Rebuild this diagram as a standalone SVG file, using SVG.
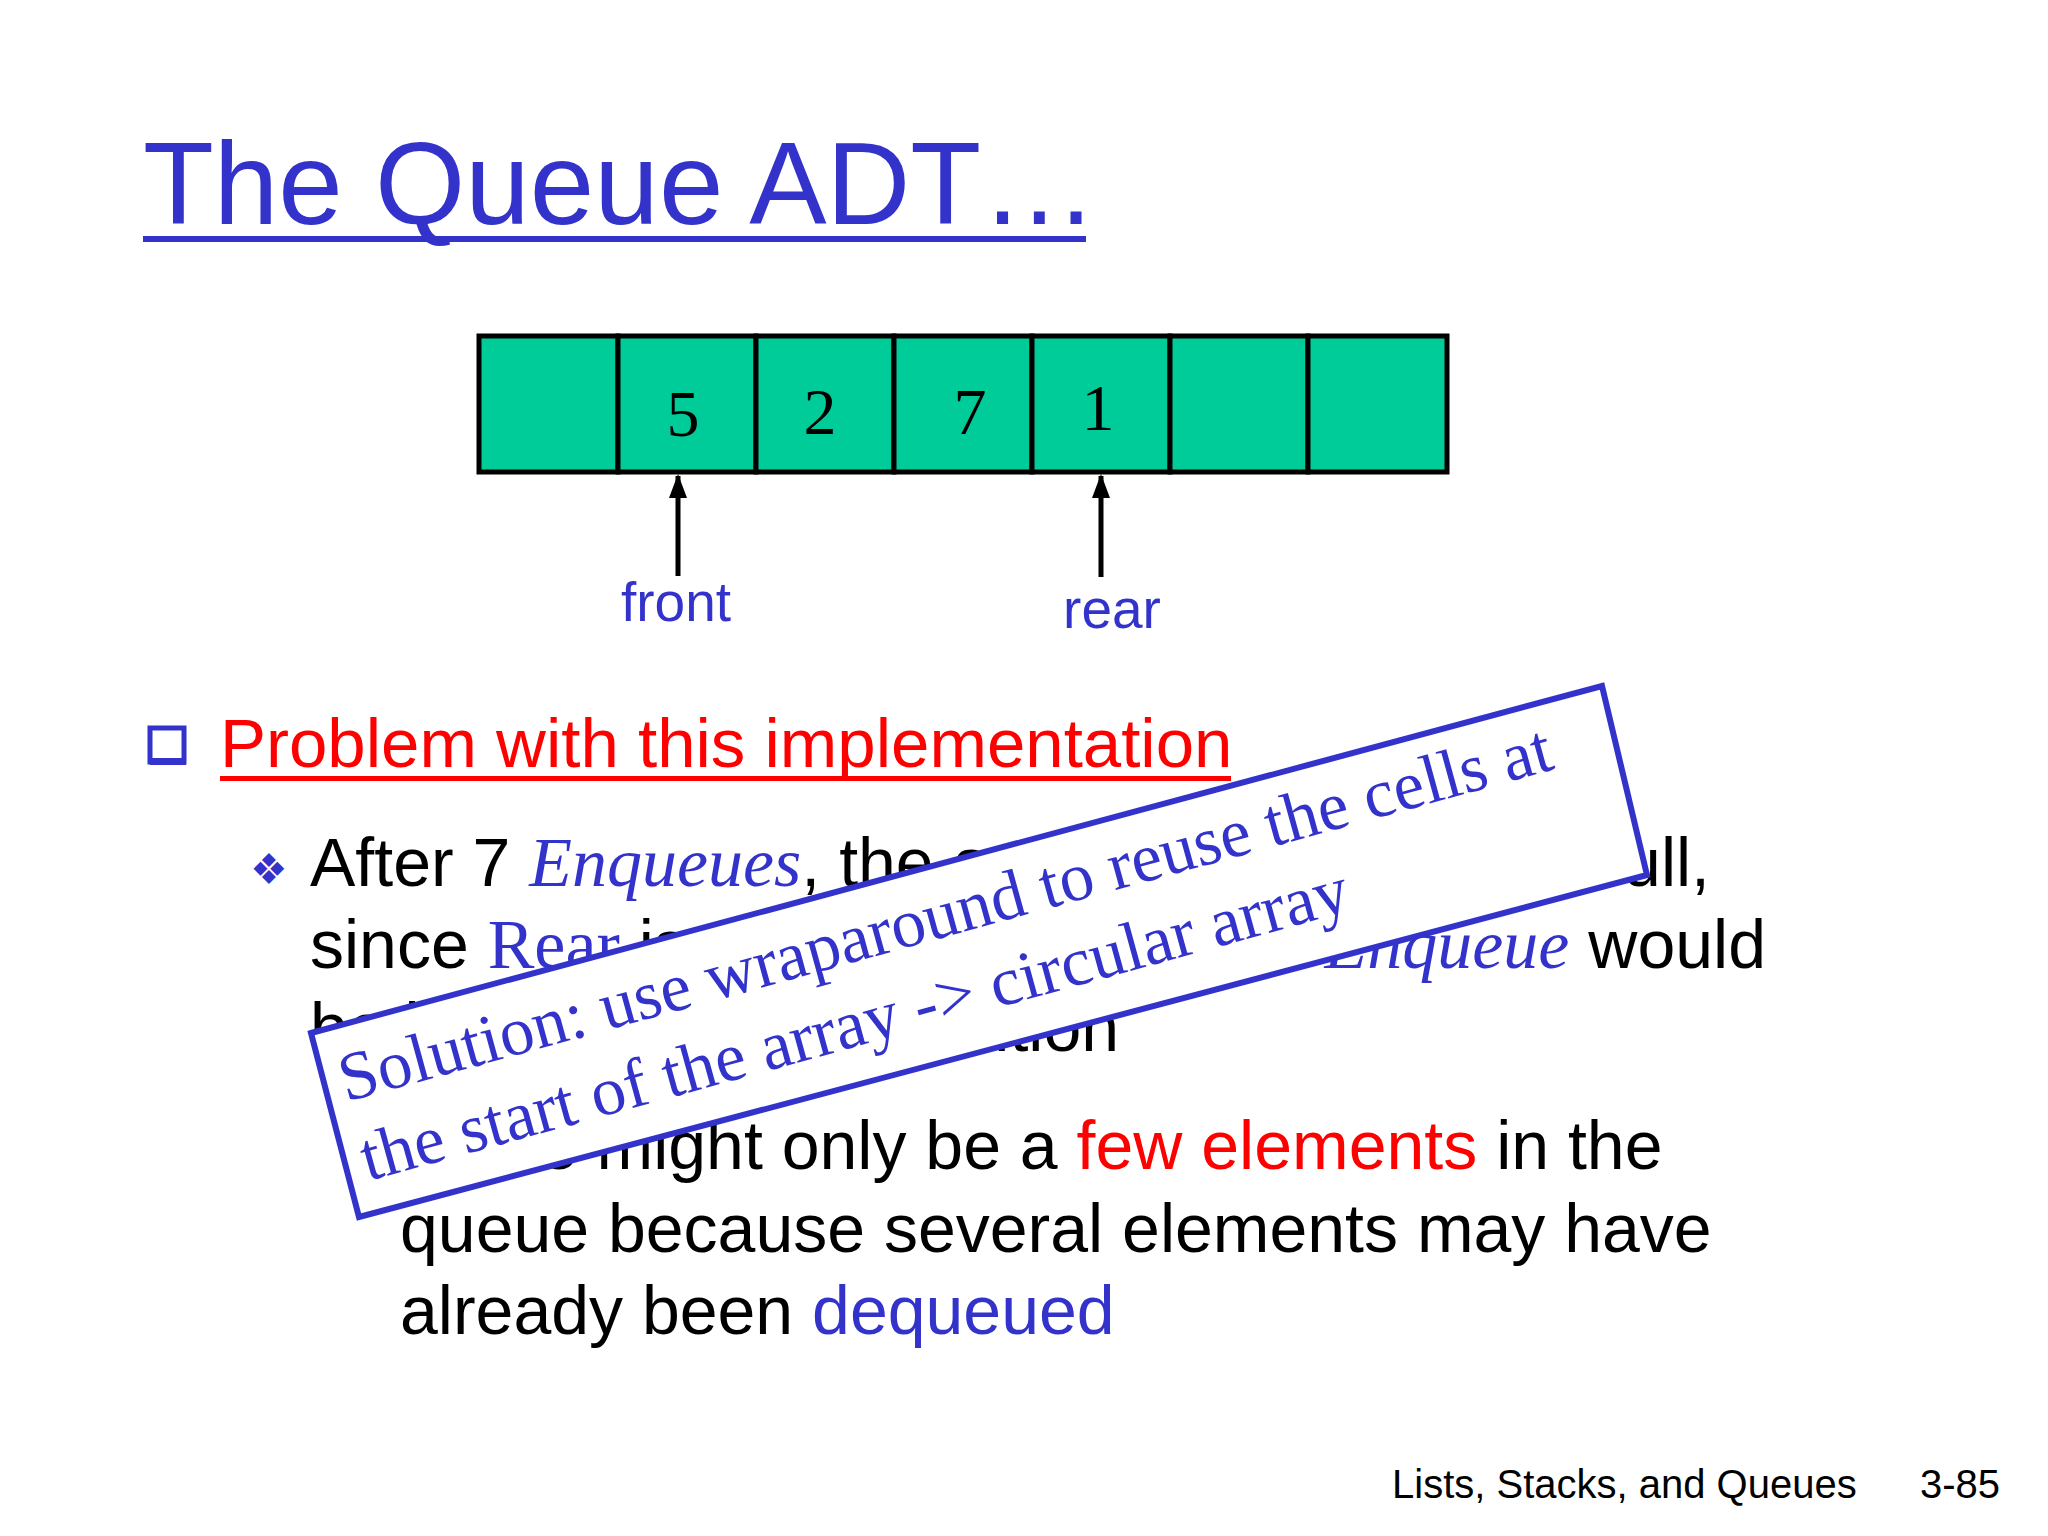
<svg xmlns="http://www.w3.org/2000/svg" width="2048" height="1536" viewBox="0 0 2048 1536">
<defs>
<marker id="ah" markerWidth="24" markerHeight="18" refX="22" refY="9" orient="auto" markerUnits="userSpaceOnUse" viewBox="0 0 24 18"><path d="M0,0 L24,9 L0,18 Z" fill="#000"/></marker>
<style>
.s{font-family:"Liberation Sans",Arial,sans-serif}
.t{font-family:"Liberation Serif","Times New Roman",serif}
.b{fill:#3333CC}
.r{fill:#FF0000}
.k{fill:#000}
.cell{fill:#00CC99;stroke:#000;stroke-width:5}
</style>
</defs>
<rect width="2048" height="1536" fill="#fff"/>
<g id="title">
<text x="143" y="224" class="s b" font-size="116">The Queue ADT…</text>
<rect x="143" y="236" width="943" height="6" fill="#3333CC"/>
</g>
<g id="array">
<rect class="cell" x="479" y="336" width="139" height="136"/>
<rect class="cell" x="618" y="336" width="138" height="136"/>
<rect class="cell" x="756" y="336" width="138" height="136"/>
<rect class="cell" x="894" y="336" width="138" height="136"/>
<rect class="cell" x="1032" y="336" width="138" height="136"/>
<rect class="cell" x="1170" y="336" width="138" height="136"/>
<rect class="cell" x="1308" y="336" width="139" height="136"/>
<g class="t k" font-size="66" text-anchor="middle">
<text x="683" y="436">5</text>
<text x="820" y="434">2</text>
<text x="970" y="434">7</text>
<text x="1098" y="430">1</text>
</g>
</g>
<g id="connectors" stroke="#000" stroke-width="5">
<line x1="678" y1="576" x2="678" y2="476" marker-end="url(#ah)"/>
<line x1="1101" y1="577" x2="1101" y2="476" marker-end="url(#ah)"/>
</g>
<g id="labels" class="s b" font-size="55" text-anchor="middle">
<text x="676" y="621">front</text>
<text x="1112" y="628">rear</text>
</g>
<g id="body" class="s k" font-size="68">
<rect x="150" y="728" width="34" height="34" fill="#fff" stroke="#3333CC" stroke-width="5"/>
<rect x="150" y="758" width="36" height="7" fill="#3333CC"/>
<text x="220" y="767" class="r" font-size="69">Problem with this implementation</text>
<rect x="220" y="776" width="1011" height="5" fill="#FF0000"/>
<text x="250" y="884" class="b" font-size="42">❖</text>
<text x="310" y="886">After 7 <tspan class="t b" font-style="italic" font-size="70">Enqueues</tspan>, the array appears</text>
<text x="1710" y="886" text-anchor="end">full,</text>
<text x="310" y="968">since <tspan class="t b" font-size="70">Rear</tspan> is at the last</text>
<text x="1766" y="968" text-anchor="end"><tspan class="t b" font-style="italic" font-size="70">Enqueue</tspan> would</text>
<text x="310" y="1051">be beyond the last position</text>
<text x="400" y="1169">There might only be a <tspan class="r">few elements</tspan> in the</text>
<text x="400" y="1252">queue because several elements may have</text>
<text x="400" y="1334">already been <tspan class="b">dequeued</tspan></text>
</g>
<g id="solution">
<polygon points="311,1033 1602,686 1647,875 359,1217" fill="#fff" stroke="#3333CC" stroke-width="6"/>
<g class="t b" font-size="69" transform="rotate(-15.4 346 1102)">
<text x="346" y="1102">Solution: use wraparound to reuse the cells at</text>
<text x="346" y="1184">the start of the array -&gt; circular array</text>
</g>
</g>
<g id="footer" class="s k" font-size="40">
<text x="1392" y="1498">Lists, Stacks, and Queues</text>
<text x="1920" y="1498">3-85</text>
</g>
</svg>
